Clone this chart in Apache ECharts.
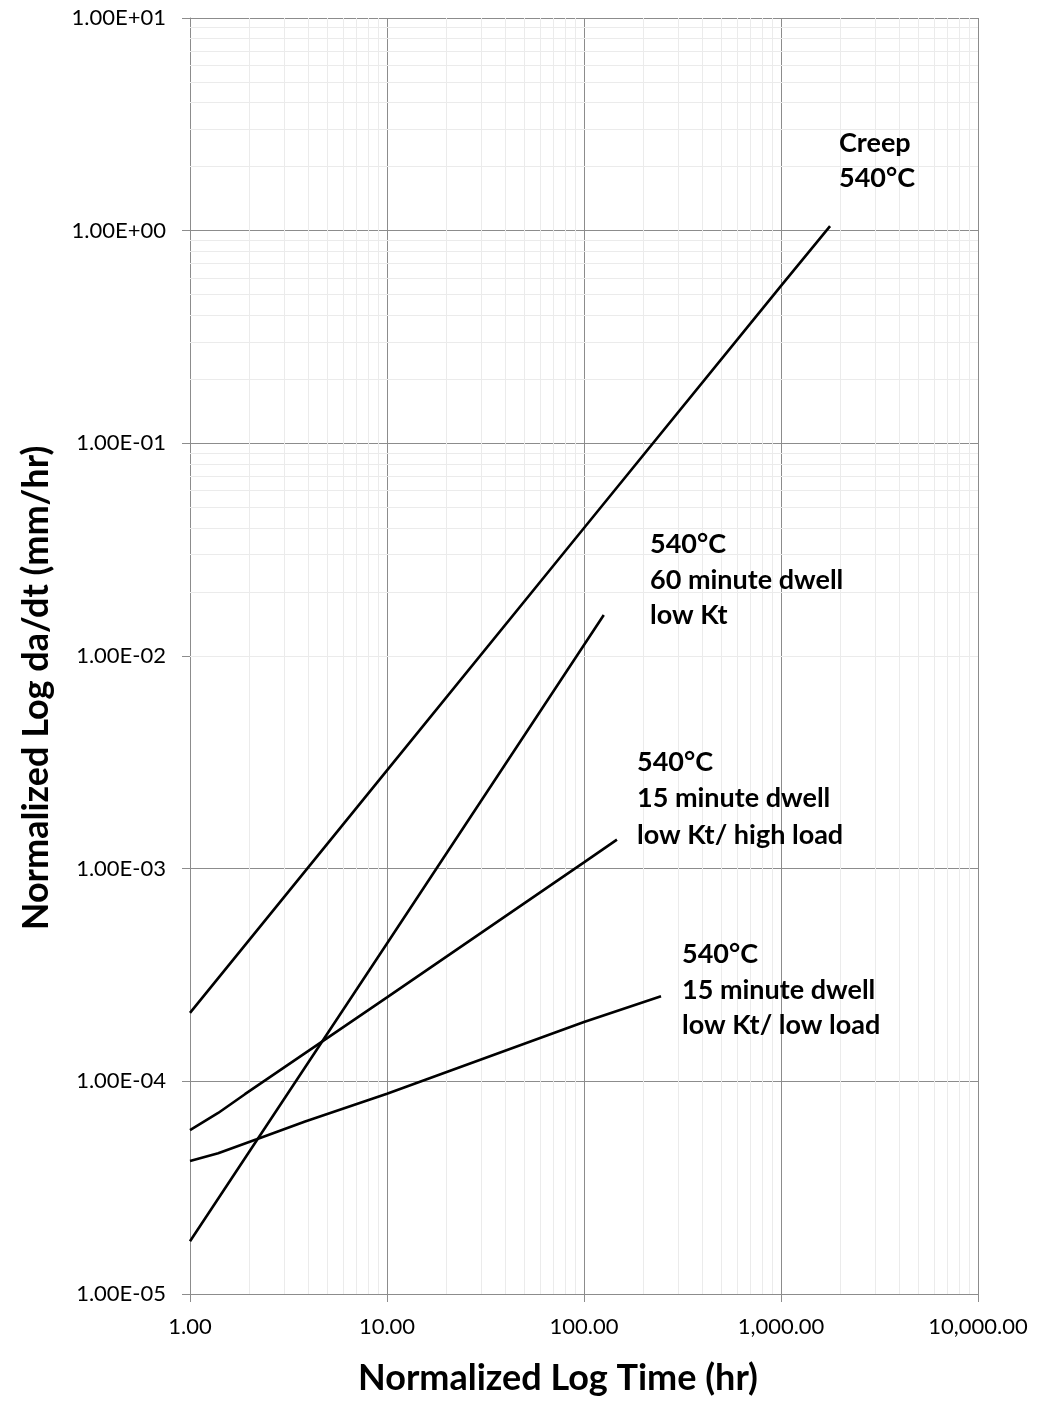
<!DOCTYPE html>
<html><head><meta charset="utf-8">
<script src="https://cdn.jsdelivr.net/npm/echarts@6/dist/echarts.min.js"></script>
<style>html,body{margin:0;padding:0;background:#fff}#c{width:1037px;height:1401px}</style>
</head><body><div id="c"></div>
<script>
// ---- data ----
const xTickLabels = ["1.00", "10.00", "100.00", "1,000.00", "10,000.00"];
const yTickLabels = ["1.00E-05", "1.00E-04", "1.00E-03", "1.00E-02", "1.00E-01", "1.00E+00", "1.00E+01"];

const creepX = [1, 10, 100, 1000, 1774];
const creepY = [2.1e-4, 2.9e-3, 4.0e-2, 0.55, 1.05];

const dwell60X = [1, 10, 126];
const dwell60Y = [1.77e-5, 4.45e-4, 1.56e-2];

const highLoadX = [1, 1.39, 1.9, 10, 100, 147];
const highLoadY = [5.9e-5, 7.1e-5, 8.7e-5, 2.48e-4, 1.07e-3, 1.37e-3];

const lowLoadX = [1, 1.39, 2.18, 3.84, 10, 100, 246];
const lowLoadY = [4.22e-5, 4.59e-5, 5.34e-5, 6.47e-5, 8.75e-5, 1.9e-4, 2.51e-4];

const labels = [
  "Creep\n540°C",
  "540°C\n60 minute dwell\nlow Kt",
  "540°C\n15 minute dwell\nlow Kt/ high load",
  "540°C\n15 minute dwell\nlow Kt/ low load"
];

// ---- build ----
const zip = (xs, ys) => xs.map((x, i) => [x, ys[i]]);
const minorX = [], minorY = [];
for (let e = 0; e < 4; e++) for (let m = 2; m <= 9; m++) minorX.push(m * Math.pow(10, e));
for (let e = -5; e < 1; e++) for (let m = 2; m <= 9; m++) minorY.push(m * Math.pow(10, e));

const lineStyle = { color: '#000', width: 2.6 };
const mkLine = (xs, ys) => ({
  type: 'line', data: zip(xs, ys), showSymbol: false, symbol: 'none',
  lineStyle, z: 5, silent: true, animation: false
});

const chart = echarts.init(document.getElementById('c'), null, { renderer: 'canvas' });
const labelFont = { fontFamily: 'Lato', fontWeight: 'bold', fontSize: 27, fill: '#000' };
const annPos = [[839, 126], [650, 527], [637, 744], [682, 937]];
const annLH = [35, 35.5, 36.5, 35.5];

chart.setOption({
  animation: false,
  backgroundColor: '#fff',
  grid: { left: 190, right: 59, top: 18, bottom: 106, containLabel: false },
  xAxis: {
    type: 'log', logBase: 10, min: 1, max: 10000,
    name: 'Normalized Log Time (hr)', nameLocation: 'middle', nameGap: 66,
    nameTextStyle: { fontFamily: 'Lato', fontWeight: 'bold', fontSize: 36, color: '#000', padding: [0, 52, 0, 0] },
    axisLine: { show: true, lineStyle: { color: '#8c8c8c', width: 1 } },
    axisTick: { show: true, length: 8, lineStyle: { color: '#8c8c8c' } },
    axisLabel: { fontFamily: 'Lato', fontSize: 22, color: '#000', margin: 22,
      formatter: v => xTickLabels[Math.round(Math.log10(v))] },
    splitLine: { show: true, lineStyle: { color: '#8c8c8c', width: 1 } },
    minorTick: { show: false }, minorSplitLine: { show: false }
  },
  yAxis: {
    type: 'log', logBase: 10, min: 1e-5, max: 10,
    name: 'Normalized Log da/dt (mm/hr)', nameLocation: 'middle', nameGap: 136, nameRotate: 90,
    nameTextStyle: { fontFamily: 'Lato', fontWeight: 'bold', fontSize: 36, color: '#000', padding: [0, 64, 0, 0] },
    axisLine: { show: true, lineStyle: { color: '#8c8c8c', width: 1 } },
    axisTick: { show: true, length: 8, lineStyle: { color: '#8c8c8c' } },
    axisLabel: { fontFamily: 'Lato', fontSize: 22, color: '#000', margin: 24,
      formatter: v => yTickLabels[Math.round(Math.log10(v)) + 5] },
    splitLine: { show: true, lineStyle: { color: '#8c8c8c', width: 1 } },
    minorTick: { show: false }, minorSplitLine: { show: false }
  },
  series: [
    {
      type: 'line', data: [], z: 1, silent: true, animation: false,
      markLine: {
        silent: true, symbol: 'none', animation: false,
        label: { show: false },
        lineStyle: { color: '#ebebeb', width: 1, type: 'solid' },
        data: minorX.map(v => ({ xAxis: v })).concat(minorY.map(v => ({ yAxis: v })))
      }
    },
    mkLine(creepX, creepY),
    mkLine(dwell60X, dwell60Y),
    mkLine(highLoadX, highLoadY),
    mkLine(lowLoadX, lowLoadY)
  ],
  graphic: labels.map((t, i) => ({
    type: 'text', left: annPos[i][0], top: annPos[i][1], z: 10, silent: true,
    style: Object.assign({ text: t, lineHeight: annLH[i] }, labelFont)
  }))
});
</script></body></html>
